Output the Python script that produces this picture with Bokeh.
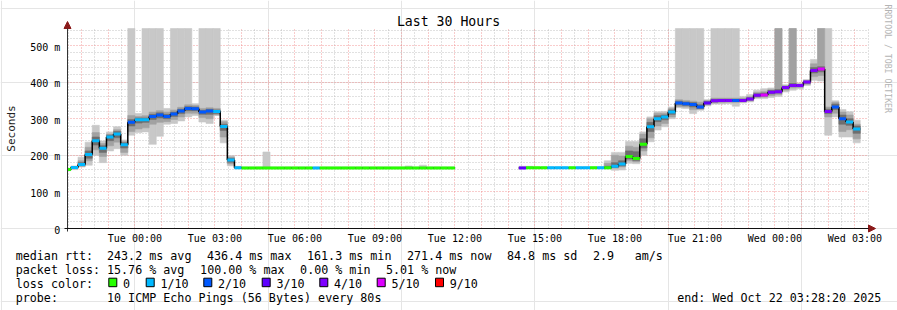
import numpy as np
from bokeh.plotting import figure
from bokeh.models import Range1d, FixedTicker, Arrow, NormalHead, ColumnDataSource, Grid
from bokeh.core.properties import value
from bokeh.embed import file_html
from bokeh.resources import INLINE

nan = float("nan")

# ---------------- data ----------------
title_text = "Last 30 Hours"
y_label_text = "Seconds"
vertical_credit = "RRDTOOL / TOBI OETIKER"

x_tick_hours = [0, 3, 6, 9, 12, 15, 18, 21, 24, 27]
x_tick_labels = ["Tue 00:00", "Tue 03:00", "Tue 06:00", "Tue 09:00", "Tue 12:00",
                 "Tue 15:00", "Tue 18:00", "Tue 21:00", "Wed 00:00", "Wed 03:00"]
y_ticks = [0, 100, 200, 300, 400, 500]
y_tick_labels = ["0", "100 m", "200 m", "300 m", "400 m", "500 m"]

end_hour = 27 + 28 / 60 + 20 / 3600      # Wed 03:28:20, hours after Tue 00:00
span_hours = 30
step_minutes = 16
first_step = -10                         # first (partial) step index relative to Tue 00:00
y_max_ms = 546.5                         # top of the value scale

median_ms = [
    161, 167, 175, 202, 240, 219, 250, 258, 229, 290,
    297, 297, 306, 310, 306, 313, 321, 328, 327, 318,
    321, 320, 279, 187, 166, 165.5, 165.5, 165.5, 165.5, 165.5,
    165.5, 165.5, 165.5, 165.5, 165.5, 165.5, 165.5, 165.5, 165.5, 165.5,
    165.5, 165.5, 165.5, 165.5, 165.5, 165.5, 165.5, 165.5, 165.5, 165.5,
    165.5, 165.5, 165.5, 165.5, 165.5,
    nan, nan, nan, nan, nan, nan, nan, nan, nan,
    165, 166, 166, 166, 166, 166,
    166, 166, 166, 166, 166, 166, 166, 170, 176, 197,
    191, 230, 278, 300, 305, 318, 343, 341, 339, 332,
    343, 349, 350, 350, 350, 350, 354, 364, 365, 372,
    374, 385, 391, 391, 400, 432, 436, 320, 332, 300, 291, 272,
]
loss_count = [
    0, 1, 1, 1, 1, 1, 1, 1, 1, 2,
    1, 1, 2, 2, 2, 2, 2, 2, 2, 2,
    2, 1, 1, 1, 1, 0, 0, 0, 0, 0,
    0, 0, 0, 0, 0, 1, 0, 0, 0, 0,
    0, 0, 0, 0, 0, 0, 0, 0, 0, 0,
    0, 0, 0, 0, 0,
    10, 10, 10, 10, 10, 10, 10, 10, 10,
    3, 0, 0, 0, 1, 1,
    1, 0, 1, 1, 0, 1, 0, 1, 1, 0,
    0, 0, 1, 1, 1, 1, 2, 2, 2, 2,
    3, 4, 4, 4, 2, 4, 4, 4, 5, 4,
    4, 4, 4, 4, 4, 4, 5, 4, 2, 2, 1, 1,
]
smoke_min = [
    158, 161, 168, 173, 200, 180, 212, 218, 200, 255,
    262, 264, 230, 252, 285, 287, 294, 305, 309, 291,
    287, 309, 234, 171, 163, 164, 164, 164, 164, 164,
    164, 164, 164, 164, 164, 164, 164, 164, 164, 164,
    164, 164, 164, 164, 164, 164, 164, 164, 164, 164,
    164, 164, 164, 164, 164,
    nan, nan, nan, nan, nan, nan, nan, nan, nan,
    164, 164, 164, 164, 164, 164,
    164, 164, 164, 164, 164, 164, 163, 159, 160, 178,
    177, 200, 237, 269, 278, 300, 330, 328, 314, 323,
    335, 340, 340, 341, 334, 343, 346, 355, 355, 358,
    361, 373, 378, 382, 391, 405, 403, 255, 305, 250, 250, 234,
]
smoke_max = [   # 560 = off the top of the chart
    164, 171, 195, 236, 282, 239, 264, 278, 242, 560,
    314, 560, 560, 560, 328, 560, 560, 560, 341, 560,
    560, 560, 296, 199, 170, 167, 167, 167, 209, 167,
    167, 167, 167, 167, 167, 167, 167, 167, 167, 167,
    167, 167, 167, 167, 167, 167, 167, 167, 171, 167,
    173, 167, 167, 167, 167,
    nan, nan, nan, nan, nan, nan, nan, nan, nan,
    170, 170, 167, 167, 167, 167,
    167, 167, 167, 167, 167, 167, 185, 208, 208, 238,
    238, 264, 305, 319, 320, 332, 560, 560, 560, 560,
    352, 560, 560, 560, 560, 361, 366, 378, 382, 384,
    560, 393, 560, 396, 407, 462, 560, 560, 349, 325, 319, 296,
]
mid_lo = [
    159, 163, 170, 185, 215, 197, 226, 236, 208, 265,
    272, 275, 285, 290, 292, 298, 305, 315, 315, 303,
    300, 310, 250, 176, 164, 164, 164, 164, 164, 164,
    164, 164, 164, 164, 164, 164, 164, 164, 164, 164,
    164, 164, 164, 164, 164, 164, 164, 164, 164, 164,
    164, 164, 164, 164, 164,
    nan, nan, nan, nan, nan, nan, nan, nan, nan,
    164, 164, 164, 164, 164, 164,
    164, 164, 164, 164, 164, 164, 164, 165, 168, 185,
    182, 212, 248, 280, 287, 305, 333, 332, 325, 326,
    338, 343, 344, 345, 344, 346, 349, 358, 359, 363,
    366, 378, 384, 385, 394, 415, 418, 305, 315, 265, 270, 245,
]
mid_hi = [
    163, 169, 185, 222, 262, 232, 258, 270, 238, 309,
    306, 308, 318, 322, 318, 324, 331, 338, 336, 328,
    330, 328, 292, 195, 168, 167, 167, 167, 167, 167,
    167, 167, 167, 167, 167, 167, 167, 167, 167, 167,
    167, 167, 167, 167, 167, 167, 167, 167, 167, 167,
    167, 167, 167, 167, 167,
    nan, nan, nan, nan, nan, nan, nan, nan, nan,
    167, 167, 167, 167, 167, 167,
    167, 167, 167, 167, 167, 168, 178, 200, 198, 225,
    222, 258, 300, 315, 315, 328, 352, 350, 348, 345,
    350, 356, 356, 356, 356, 356, 360, 372, 374, 380,
    560, 390, 560, 395, 404, 450, 560, 332, 345, 318, 310, 285,
]
core_lo = [
    160, 165, 172, 192, 228, 208, 240, 248, 220, 280,
    288, 290, 298, 302, 300, 306, 314, 322, 322, 312,
    312, 314, 268, 181, 165, 164, 164, 164, 164, 164,
    164, 164, 164, 164, 164, 164, 164, 164, 164, 164,
    164, 164, 164, 164, 164, 164, 164, 164, 164, 164,
    164, 164, 164, 164, 164,
    nan, nan, nan, nan, nan, nan, nan, nan, nan,
    164, 164, 164, 164, 164, 164,
    164, 164, 164, 164, 164, 164, 164, 167, 171, 190,
    186, 220, 265, 292, 297, 312, 338, 336, 332, 328,
    341, 346, 347, 347, 347, 348, 351, 361, 362, 368,
    370, 381, 388, 388, 397, 425, 428, 314, 325, 285, 282, 260,
]
core_hi = [
    162, 168, 180, 212, 250, 226, 255, 265, 234, 298,
    302, 302, 312, 316, 312, 318, 326, 333, 332, 323,
    326, 324, 285, 192, 167, 167, 167, 167, 167, 167,
    167, 167, 167, 167, 167, 167, 167, 167, 167, 167,
    167, 167, 167, 167, 167, 167, 167, 167, 167, 167,
    167, 167, 167, 167, 167,
    nan, nan, nan, nan, nan, nan, nan, nan, nan,
    167, 167, 167, 167, 167, 167,
    167, 167, 167, 167, 167, 167, 170, 180, 185, 212,
    210, 245, 290, 308, 310, 324, 348, 346, 344, 338,
    347, 353, 353, 353, 353, 353, 357, 368, 370, 377,
    380, 388, 396, 393, 403, 440, 442, 326, 340, 310, 300, 280,
]

loss_legend_labels = ["0", "1/10", "2/10", "3/10", "4/10", "5/10", "9/10"]
loss_legend_colors = ["#26ff00", "#00b8ff", "#0059ff", "#5e00ff", "#7e00ff", "#dd00ff", "#ff0000"]

stats_rtt = ["243.2 ms avg", "436.4 ms max", "161.3 ms min", "271.4 ms now", "84.8 ms sd", "2.9", "am/s"]
stats_loss = ["15.76 % avg", "100.00 % max", "0.00 % min", "5.01 % now"]
row_titles = ["median rtt:", "packet loss:", "loss color:", "probe:"]
probe_text = "10 ICMP Echo Pings (56 Bytes) every 80s"
end_text = "end: Wed Oct 22 03:28:20 2025"

# ---------------- layout ----------------
W, H = 897, 310
FL, FR, FT, FB = 67, 867, 28, 228          # graph area edges in pixels
x_start = end_hour - span_hours
MONO = value("DejaVu Sans Mono")


def dx(px):
    return x_start + (px - FL) / (FR - FL) * span_hours


def dy(py):
    return (FB - py) / (FB - FT) * y_max_ms


def loss_color(n):
    if n >= 9:
        return loss_legend_colors[6]
    if n >= 5:
        return loss_legend_colors[5]
    return loss_legend_colors[n]


p = figure(width=W, height=H, output_backend="svg", toolbar_location=None,
           x_range=Range1d(dx(0), dx(W)), y_range=Range1d(dy(H), dy(0)),
           x_axis_location=None, y_axis_location=None, min_border=0)
p.min_border_left = p.min_border_right = p.min_border_top = p.min_border_bottom = 0
p.outline_line_color = None
p.background_fill_color = "white"
p.border_fill_color = "white"

# grids, limited to the graph area
hour_lines = list(range(-2, 28))
half_lines = [h + 0.5 for h in range(-3, 28)]
vgrid = Grid(dimension=0, ticker=FixedTicker(ticks=hour_lines, minor_ticks=half_lines),
             bounds=(x_start, end_hour), cross_bounds=(0, y_max_ms))
hgrid = Grid(dimension=1, ticker=FixedTicker(ticks=[100, 200, 300, 400, 500],
                                             minor_ticks=[v for v in range(20, 546, 20) if v % 100]),
             bounds=(0, y_max_ms), cross_bounds=(x_start, end_hour))
for g in (vgrid, hgrid):
    g.grid_line_color = "#f08080"
    g.grid_line_alpha = 0.8
    g.grid_line_dash = "1 2"
    g.minor_grid_line_color = "#b8b8b8"
    g.minor_grid_line_alpha = 0.85
    g.minor_grid_line_dash = "1 2"
    p.add_layout(g)

# data
n = len(median_ms)
k = np.arange(first_step, first_step + n)
t0 = np.maximum(k * step_minutes / 60.0, x_start)
t1 = (k + 1) * step_minutes / 60.0
med = np.array(median_ms, dtype=float)


def arr(a):
    return np.minimum(np.array(a, dtype=float), y_max_ms)


src = ColumnDataSource(dict(
    t0=t0, t1=t1, med=med,
    smin=arr(smoke_min), smax=arr(smoke_max),
    mlo=arr(mid_lo), mhi=arr(mid_hi),
    clo=arr(core_lo), chi=arr(core_hi),
    col=[loss_color(c) for c in loss_count],
))

for lo, hi, c in (("smin", "smax", "#c8c8c8"), ("mlo", "mhi", "#a2a2a2"), ("clo", "chi", "#6e6e6e")):
    p.quad(left="t0", right="t1", bottom=lo, top=hi, source=src,
           fill_color=c, line_color=c, line_width=0.6)

# black step connectors + coloured median
vx, vy0, vy1 = [], [], []
for i in range(1, n):
    if not (np.isnan(med[i - 1]) or np.isnan(med[i])):
        vx.append(t0[i]); vy0.append(med[i - 1]); vy1.append(med[i])
p.segment(x0=vx, x1=vx, y0=vy0, y1=vy1, line_color="#000000", line_width=1.5)
p.segment(x0="t0", x1="t1", y0="med", y1="med", source=src,
          line_color="#000000", line_width=1)
p.segment(x0="t0", x1="t1", y0="med", y1="med", source=src,
          line_color="col", line_width=3)

# axes lines with arrow heads
p.add_layout(Arrow(end=NormalHead(size=7, fill_color="#8b1a1a", line_color="#8b1a1a"),
                   x_start=x_start, y_start=dy(231), x_end=x_start, y_end=dy(21),
                   line_color="#333333", line_width=1))
p.add_layout(Arrow(end=NormalHead(size=7, fill_color="#8b1a1a", line_color="#8b1a1a"),
                   x_start=dx(64), y_start=0, x_end=dx(875), y_end=0,
                   line_color="#111111", line_width=1))

# tick labels
p.text(x=x_tick_hours, y=[0] * len(x_tick_hours), text=x_tick_labels, y_offset=10,
       text_align="center", text_baseline="alphabetic", text_font=MONO,
       text_font_size="10px", text_color="#000000")
p.text(x=[x_start] * len(y_ticks), y=y_ticks, text=y_tick_labels, x_offset=-7.2, y_offset=1.6,
       text_align="right", text_baseline="alphabetic", text_font=MONO,
       text_font_size="10px", text_color="#000000")


def lab(texts, pxs, pys, size, align="left", baseline="alphabetic", angle=0.0, color="#000000"):
    p.text(x=[dx(v) for v in pxs], y=[dy(v) for v in pys], text=texts, text_font=MONO,
           text_font_size=size, text_align=align, text_baseline=baseline,
           angle=angle, text_color=color)


lab([title_text], [448], [20.8], "13.2px", align="center")
lab([y_label_text], [10.5], [128], "11px", align="center", baseline="middle",
    angle=np.pi / 2, color="#222222")
lab([vertical_credit], [887], [4], "8.2px", baseline="middle", angle=-np.pi / 2, color="#b4b4b4")

LS = "11.7px"
row_y = [255.2, 269.2, 283.2, 297.0]
lab(row_titles, [15.2] * 4, row_y, LS)
lab(stats_rtt, [106.5, 206.5, 306.5, 406.5, 506.5, 592.5, 634.2], [row_y[0]] * 7, LS)
lab(stats_loss, [106.5, 199.6, 299.6, 385.5], [row_y[1]] * 4, LS)
box_x = [108.3, 145.7, 203.3, 261.7, 319.3, 376.7, 435.0]
p.quad(left=[dx(b) for b in box_x], right=[dx(b + 8) for b in box_x],
       top=[dy(277.7)] * 7, bottom=[dy(286.2)] * 7,
       fill_color=loss_legend_colors, line_color="#000000", line_width=1)
lab(loss_legend_labels, [b + 14.2 for b in box_x], [row_y[2]] * 7, LS)
lab([probe_text], [106.5], [row_y[3]], LS)
lab([end_text], [880.8], [row_y[3]], LS, align="right")

open("out.html", "w").write(file_html(p, INLINE))
